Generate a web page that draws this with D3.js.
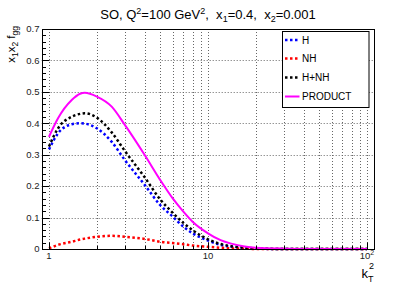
<!DOCTYPE html>
<html><head><meta charset="utf-8">
<script src="https://cdn.jsdelivr.net/npm/d3@7"></script>
<style>
html,body{margin:0;padding:0;background:#fff;}
svg{display:block;font-family:"Liberation Sans",Arial,sans-serif;}
</style></head>
<body>
<svg id="c" width="415" height="283"></svg>
<script>
// ---- data ----
const kT2     = [1, 1.14, 1.39, 1.57, 1.68, 2, 2.48, 3, 4, 5, 6, 7, 8, 10, 12, 14, 17, 20, 30, 45, 65, 100];
const H       = [0.317, 0.368, 0.397, 0.400, 0.399, 0.384, 0.341, 0.283, 0.204, 0.140, 0.103, 0.071, 0.050, 0.027, 0.013, 0.007, 0.003, 0.001, 0, 0, 0, 0];
const NH      = [0.002, 0.013, 0.023, 0.030, 0.033, 0.039, 0.042, 0.039, 0.032, 0.023, 0.019, 0.015, 0.011, 0.007, 0.004, 0.002, 0.001, 0, 0, 0, 0, 0];
const HNH     = [0.326, 0.384, 0.421, 0.430, 0.432, 0.418, 0.371, 0.312, 0.228, 0.158, 0.115, 0.083, 0.060, 0.031, 0.016, 0.009, 0.004, 0.002, 0, 0, 0, 0];
const PRODUCT = [0.357, 0.416, 0.474, 0.494, 0.497, 0.485, 0.453, 0.395, 0.299, 0.220, 0.161, 0.119, 0.087, 0.050, 0.028, 0.017, 0.008, 0.004, 0.001, 0, 0, 0];
const seriesNames = ["H", "NH", "H+NH", "PRODUCT"];
const yTickLabels = ["0", "0.1", "0.2", "0.3", "0.4", "0.5", "0.6", "0.7"];
const xMajorTicks = [1, 10, 100];

const svg = d3.select("#c");
const x = d3.scaleLog().domain([0.9, 110]).range([41.7, 373.6]);
const y = d3.scaleLinear().domain([0, 0.7]).range([249, 29]);
const L = x(0.9), R = x(110), T = y(0.7), B = y(0);

// grid
const xMinor = [];
for (let d = 1; d <= 10; d *= 10) for (let m = 1; m <= 9; m++) xMinor.push(d * m);
xMinor.push(100);
const g = svg.append("g");
g.selectAll("line.vx").data(xMinor.filter(v => v > 0.9)).join("line")
  .attr("x1", d => Math.round(x(d)) + 0.5).attr("x2", d => Math.round(x(d)) + 0.5)
  .attr("y1", T).attr("y2", B)
  .attr("stroke", "#666").attr("stroke-width", 1).attr("stroke-dasharray", "1,2");
g.selectAll("line.hy").data(d3.range(1, 7).map(i => i / 10)).join("line")
  .attr("x1", L).attr("x2", R)
  .attr("y1", d => Math.round(y(d)) + 0.5).attr("y2", d => Math.round(y(d)) + 0.5)
  .attr("stroke", "#666").attr("stroke-width", 1).attr("stroke-dasharray", "1,2");

// curves
const line = d3.line().x((d, i) => x(kT2[i])).y(d => y(d)).curve(d3.curveMonotoneX);
const styles = [
  {data: H, color: "#0000ff", dash: "2.5,2.5", w: 2.5},
  {data: NH, color: "#ff0000", dash: "2.5,2.5", w: 2.5},
  {data: HNH, color: "#000000", dash: "2.5,2.5", w: 2.5},
  {data: PRODUCT, color: "#ff00ff", dash: null, w: 2}
];
styles.forEach(s => {
  svg.append("path").attr("d", line(s.data)).attr("fill", "none")
    .attr("stroke", s.color).attr("stroke-width", s.w)
    .attr("stroke-dasharray", s.dash);
});

// frame
svg.append("rect").attr("x", Math.round(L) + 0.5).attr("y", Math.round(T) + 0.5)
  .attr("width", Math.round(R) - Math.round(L)).attr("height", Math.round(B) - Math.round(T))
  .attr("fill", "none").attr("stroke", "#000").attr("stroke-width", 1);

// y ticks
const ax = svg.append("g").attr("stroke", "#000").attr("stroke-width", 1);
d3.range(0, 36).forEach(i => {
  const v = i * 0.02, py = Math.round(y(v)) + 0.5;
  const len = (i % 5 === 0) ? 7 : 3.5;
  ax.append("line").attr("x1", Math.round(L) + 0.5).attr("x2", Math.round(L) + 0.5 + len).attr("y1", py).attr("y2", py);
});
// x ticks
xMinor.forEach(v => {
  const px = Math.round(x(v)) + 0.5;
  const len = xMajorTicks.includes(v) ? 7 : 3.5;
  ax.append("line").attr("x1", px).attr("x2", px).attr("y1", Math.round(B) + 0.5).attr("y2", Math.round(B) + 0.5 - len);
});

// y tick labels
svg.selectAll("text.yl").data(yTickLabels).join("text")
  .attr("x", 39.5).attr("y", (d, i) => y(i / 10)).attr("dy", "0.35em")
  .attr("text-anchor", "end").attr("font-size", 9.5).attr("fill", "#222").text(d => d);
// x tick labels
xMajorTicks.forEach(v => {
  const t = svg.append("text").attr("x", x(v)).attr("y", 259).attr("text-anchor", "middle")
    .attr("font-size", 9.5).attr("fill", "#222");
  if (v === 100) {
    t.append("tspan").text("10");
    t.append("tspan").attr("font-size", 7).attr("dy", -4).text("2");
  } else t.text(String(v));
});

// title
const title = svg.append("text").attr("x", 208).attr("y", 19).attr("text-anchor", "middle")
  .attr("font-size", 13).attr("fill", "#000");
const parts = [["SO, Q", 0], ["2", -1], ["=100 GeV", 0], ["2", -1], [",\u00a0\u00a0x", 0], ["1", 1], ["=0.4,\u00a0\u00a0x", 0], ["2", 1], ["=0.001", 0]];
let shift = 0;
parts.forEach(([txt, k]) => {
  const target = k === -1 ? -5 : (k === 1 ? 3 : 0);
  title.append("tspan").attr("dy", target - shift).attr("font-size", k === 0 ? 13 : 9).text(txt);
  shift = target;
});

// y axis label
const yl = svg.append("text").attr("transform", "translate(15,26) rotate(-90)")
  .attr("text-anchor", "end").attr("font-size", 11.5).attr("fill", "#000");
const yparts = [["x", 0], ["1", 1], ["x", 0], ["2", 1], ["\u00a0f", 0], ["gg", 1]];
shift = 0;
yparts.forEach(([txt, k]) => {
  const target = k === 1 ? 3 : 0;
  yl.append("tspan").attr("dy", target - shift).attr("font-size", k === 0 ? 11.5 : 8.5).text(txt);
  shift = target;
});

// x axis label
svg.append("text").attr("x", 361.5).attr("y", 278).attr("font-size", 13).text("k");
svg.append("text").attr("x", 369).attr("y", 268.5).attr("font-size", 9).text("2");
svg.append("text").attr("x", 368).attr("y", 282).attr("font-size", 9).text("T");

// legend
const lg = svg.append("g");
lg.append("rect").attr("x", 282.5).attr("y", 31.5).attr("width", 86.5).attr("height", 76)
  .attr("fill", "#fff").attr("stroke", "#000").attr("stroke-width", 1);
const ly = [40, 58.5, 77.5, 96.5];
seriesNames.forEach((name, i) => {
  const s = styles[i];
  lg.append("line").attr("x1", 285).attr("x2", 299.5).attr("y1", ly[i]).attr("y2", ly[i])
    .attr("stroke", s.color).attr("stroke-width", s.w).attr("stroke-dasharray", s.dash);
  lg.append("text").attr("x", 302).attr("y", ly[i]).attr("dy", "0.35em")
    .attr("font-size", 10).attr("fill", "#000").text(name);
});
</script>
</body></html>
